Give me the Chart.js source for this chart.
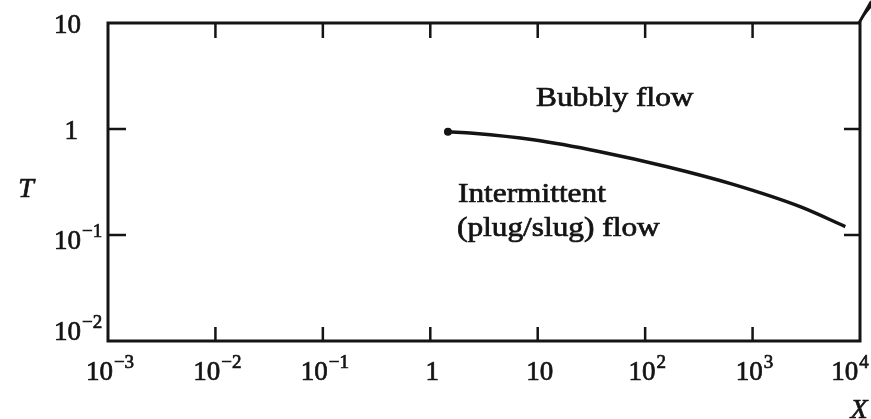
<!DOCTYPE html>
<html>
<head>
<meta charset="utf-8">
<script src="https://cdn.jsdelivr.net/npm/chart.js@4"></script>
<style>
  body { margin: 0; background: #fff; }
  #wrap { width: 871px; height: 419px; position: relative; }
</style>
</head>
<body>
<div id="wrap"><canvas id="flow-map"></canvas></div>
<script>
// Flow regime map: T vs X (log-log), transition line between bubbly and intermittent flow

const xValues = [1.46, 2.5, 9.1, 38, 160, 660, 2770, 7300];
const tValues = [0.94, 0.91, 0.79, 0.61, 0.44, 0.30, 0.185, 0.12];

const xTickValues = [1e-3, 1e-2, 1e-1, 1, 10, 1e2, 1e3, 1e4];
const xTickBases = ['10', '10', '10', '1', '10', '10', '10', '10'];
const xTickSups = ['\u22123', '\u22122', '\u22121', '', '', '2', '3', '4'];

const yTickValues = [10, 1, 1e-1, 1e-2];
const yTickBases = ['10', '1', '10', '10'];
const yTickSups = ['', '', '\u22121', '\u22122'];

const regionLabels = ['Bubbly flow', 'Intermittent', '(plug/slug) flow'];

const INK = '#141414';
const SERIF = '"Liberation Serif", "DejaVu Serif", serif';

// fill + thin stroke so the text looks as heavy as the scanned print
function ink(ctx, txt, x, y) {
  ctx.fillText(txt, x, y);
  ctx.lineWidth = 0.7;
  ctx.strokeText(txt, x, y);
}

// base + superscript, x = left edge
function drawSup(ctx, base, sup, x, y) {
  ctx.font = '27px ' + SERIF;
  ctx.textAlign = 'left';
  ctx.textBaseline = 'alphabetic';
  ink(ctx, base, x, y);
  const bw = ctx.measureText(base).width;
  if (sup) {
    ctx.font = '19px ' + SERIF;
    ink(ctx, sup, x + bw + 1, y - 12);
  }
}

function supWidth(ctx, base, sup) {
  ctx.font = '27px ' + SERIF;
  let w = ctx.measureText(base).width;
  if (sup) {
    ctx.font = '19px ' + SERIF;
    w += ctx.measureText(sup).width + 1;
  }
  return w;
}

const framePlugin = {
  id: 'frame',
  afterDraw(chart) {
    const ctx = chart.ctx;
    const a = chart.chartArea;
    const xs = chart.scales.x;
    const ys = chart.scales.y;
    ctx.save();
    ctx.strokeStyle = INK;
    ctx.fillStyle = INK;

    // box
    ctx.lineWidth = 3;
    ctx.strokeRect(a.left, a.top, a.right - a.left, a.bottom - a.top);

    // inward ticks
    ctx.lineWidth = 2.5;
    xTickValues.forEach((v, i) => {
      if (i === 0 || i === xTickValues.length - 1) return;
      const px = xs.getPixelForValue(v);
      ctx.beginPath();
      ctx.moveTo(px, a.top); ctx.lineTo(px, a.top + 15);
      ctx.moveTo(px, a.bottom); ctx.lineTo(px, a.bottom - 14);
      ctx.stroke();
    });
    yTickValues.forEach((v, i) => {
      if (i === 0 || i === yTickValues.length - 1) return;
      const py = ys.getPixelForValue(v);
      ctx.beginPath();
      ctx.moveTo(a.left, py); ctx.lineTo(a.left + 18, py);
      ctx.moveTo(a.right, py); ctx.lineTo(a.right - 16, py);
      ctx.stroke();
    });

    // x tick labels
    xTickValues.forEach((v, i) => {
      const px = xs.getPixelForValue(v);
      const w = supWidth(ctx, xTickBases[i], xTickSups[i]);
      const nudge = i === xTickValues.length - 1 ? -10 : 2;
      drawSup(ctx, xTickBases[i], xTickSups[i], px - w / 2 + nudge, a.bottom + 39);
    });

    // y tick labels: base right-aligned, superscript sticks out
    yTickValues.forEach((v, i) => {
      const py = ys.getPixelForValue(v);
      ctx.font = '27px ' + SERIF;
      const bw = ctx.measureText(yTickBases[i]).width;
      const shift = i === yTickValues.length - 1 ? -1 : (i === 2 ? 14 : 10);
      const dx = yTickBases[i] === '1' ? 30 : 27;
      drawSup(ctx, yTickBases[i], yTickSups[i], a.left - dx - bw, py + shift);
    });

    // axis titles
    ctx.font = 'italic 28px ' + SERIF;
    ctx.textAlign = 'center';
    ctx.textBaseline = 'alphabetic';
    ink(ctx, 'T', 26, 197);
    ink(ctx, 'X', 859, 418);

    // region labels (slightly widened like the scan)
    const put = (txt, x, y) => {
      ctx.save();
      ctx.translate(x, y);
      ctx.scale(1.16, 1);
      ctx.font = '27px ' + SERIF;
      ctx.textAlign = 'left';
      ink(ctx, txt, 0, 0);
      ctx.restore();
    };
    put(regionLabels[0], 536, 106);
    put(regionLabels[1], 458, 202);
    put(regionLabels[2], 457, 236);

    // corner mark at top right
    ctx.beginPath();
    ctx.moveTo(a.right - 2, a.top + 1);
    ctx.lineTo(871, 0);
    ctx.lineTo(871, 8);
    ctx.closePath();
    ctx.fill();
    ctx.lineWidth = 3;
    ctx.beginPath();
    ctx.moveTo(a.right - 1, a.top);
    ctx.lineTo(871, 2);
    ctx.stroke();

    ctx.restore();
  }
};

new Chart(document.getElementById('flow-map'), {
  type: 'line',
  data: {
    datasets: [{
      label: 'transition',
      data: xValues.map((x, i) => ({ x: x, y: tValues[i] })),
      borderColor: INK,
      backgroundColor: INK,
      borderWidth: 3.5,
      cubicInterpolationMode: 'monotone',
      pointRadius: ctx => ctx.dataIndex === 0 ? 4 : 0,
      pointBorderWidth: 0,
      fill: false
    }]
  },
  options: {
    responsive: true,
    maintainAspectRatio: false,
    animation: false,
    layout: { padding: { left: 108, top: 23, right: 11, bottom: 78 } },
    plugins: {
      legend: { display: false },
      tooltip: { enabled: false }
    },
    scales: {
      x: { type: 'logarithmic', min: 1e-3, max: 1e4, display: false },
      y: { type: 'logarithmic', min: 1e-2, max: 10, display: false }
    }
  },
  plugins: [framePlugin]
});
</script>
</body>
</html>
